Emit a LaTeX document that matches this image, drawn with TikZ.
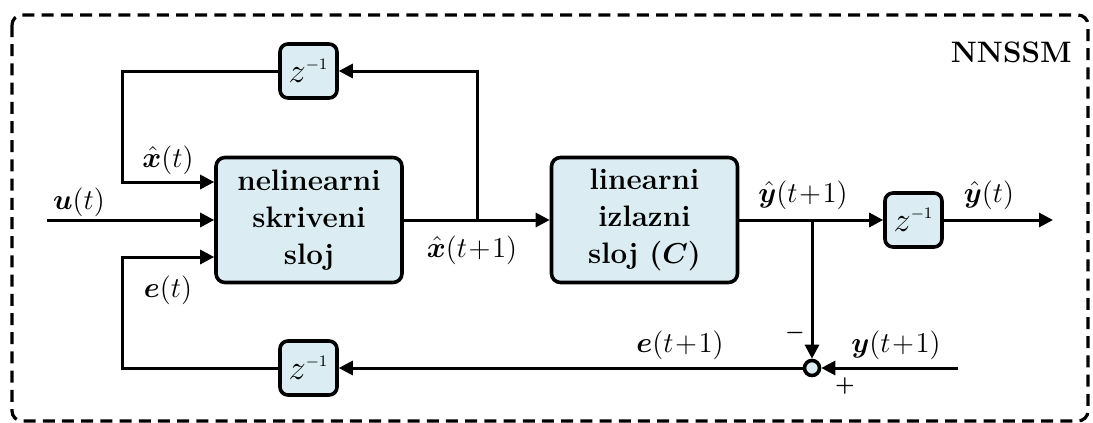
\documentclass[tikz,border=0pt]{standalone}
\usepackage{amsmath,bm}
\usetikzlibrary{arrows.meta,calc}
\definecolor{boxfill}{RGB}{219,237,243}
\tikzset{
  blk/.style={draw, line width=1.8pt, fill=boxfill, rounded corners=4.5pt, inner sep=0pt, align=center,
    minimum width=93pt, minimum height=62.5pt, font=\fontsize{14.8}{18.5}\selectfont\bfseries},
  dly/.style={draw, line width=1.8pt, fill=boxfill, rounded corners=4pt, inner sep=0pt,
    minimum width=28.5pt, minimum height=27pt, font=\fontsize{16}{18}\selectfont},
  sumc/.style={circle, draw, line width=1.8pt, fill=boxfill, inner sep=0pt, minimum size=7.5pt},
  wire/.style={line width=1.5pt},
  arr/.style={wire, -{Triangle[length=7pt,width=7pt]}},
  lbl/.style={inner sep=0pt, font=\fontsize{14.5}{16}\selectfont},
  sgn/.style={inner sep=0pt, font=\fontsize{11}{12}\selectfont\bfseries},
}
\newcommand{\zinv}{$z^{\scriptscriptstyle -1}$}
\begin{document}
\begin{tikzpicture}[x=0.5pt,y=-0.5pt]
\useasboundingbox (0,0) rectangle (1093,423);
% frame
\draw[line width=1.6pt, dash pattern=on 6pt off 3.6pt, rounded corners=5pt] (12,15) rectangle (1088,421);
\node[font=\fontsize{14.8}{18}\selectfont\bfseries, anchor=east, inner sep=0pt] (title) at (1072,52) {NNSSM};
% blocks
\node[blk] (hid) at (309,220) {nelinearni\\skriveni\\sloj};
\node[blk] (lin) at (644.5,220) {linearni\\izlazni\\sloj ($\boldsymbol{C}$)};
\node[dly] (zt) at (308.5,71) {\zinv};
\node[dly] (zb) at (308.5,368) {\zinv};
\node[dly] (zr) at (913.5,220) {\zinv};
\node[sumc] (sum) at (812,368) {};
% coordinates
\coordinate (uin) at (47,220);
\coordinate (xin) at (122,182);
\coordinate (ein) at (122,257);
\coordinate (br1) at (477,220);
\coordinate (br2) at (812,220);
\coordinate (out) at (1053,220);
\coordinate (yin) at (958,368);
% connectors
\draw[arr] (uin) -- (hid);
\draw[arr] (hid) -- (lin);
\draw[arr] (br1) |- (zt.east);
\draw[arr] (zt.west) -| (xin) -- (xin -| hid.west);
\draw[arr] (lin) -- (zr);
\draw[arr] (zr) -- (out);
\draw[arr] (br2) -- (sum.north);
\draw[arr] (yin) -- (sum.east);
\draw[arr] (sum.west) -- (zb.east);
\draw[arr] (zb.west) -| (ein) -- (ein -| hid.west);
% labels
\node[lbl] (lu) at (79,202) {$\boldsymbol{u}(t)$};
\node[lbl] (lx) at (168,160) {$\hat{\boldsymbol{x}}(t)$};
\node[lbl] (le) at (168,290) {$\boldsymbol{e}(t)$};
\node[lbl] (lx1) at (472,250) {$\hat{\boldsymbol{x}}(t\!+\!1)$};
\node[lbl] (ly1) at (803,195) {$\hat{\boldsymbol{y}}(t\!+\!1)$};
\node[lbl] (ly) at (989,195) {$\hat{\boldsymbol{y}}(t)$};
\node[lbl] (le1) at (680,345) {$\boldsymbol{e}(t\!+\!1)$};
\node[lbl] (lyy) at (896,345) {$\boldsymbol{y}(t\!+\!1)$};
\node[sgn] (minus) at (795,333) {$\boldsymbol{-}$};
\node[sgn] (plus) at (845,386) {$\boldsymbol{+}$};
\end{tikzpicture}
\end{document}
